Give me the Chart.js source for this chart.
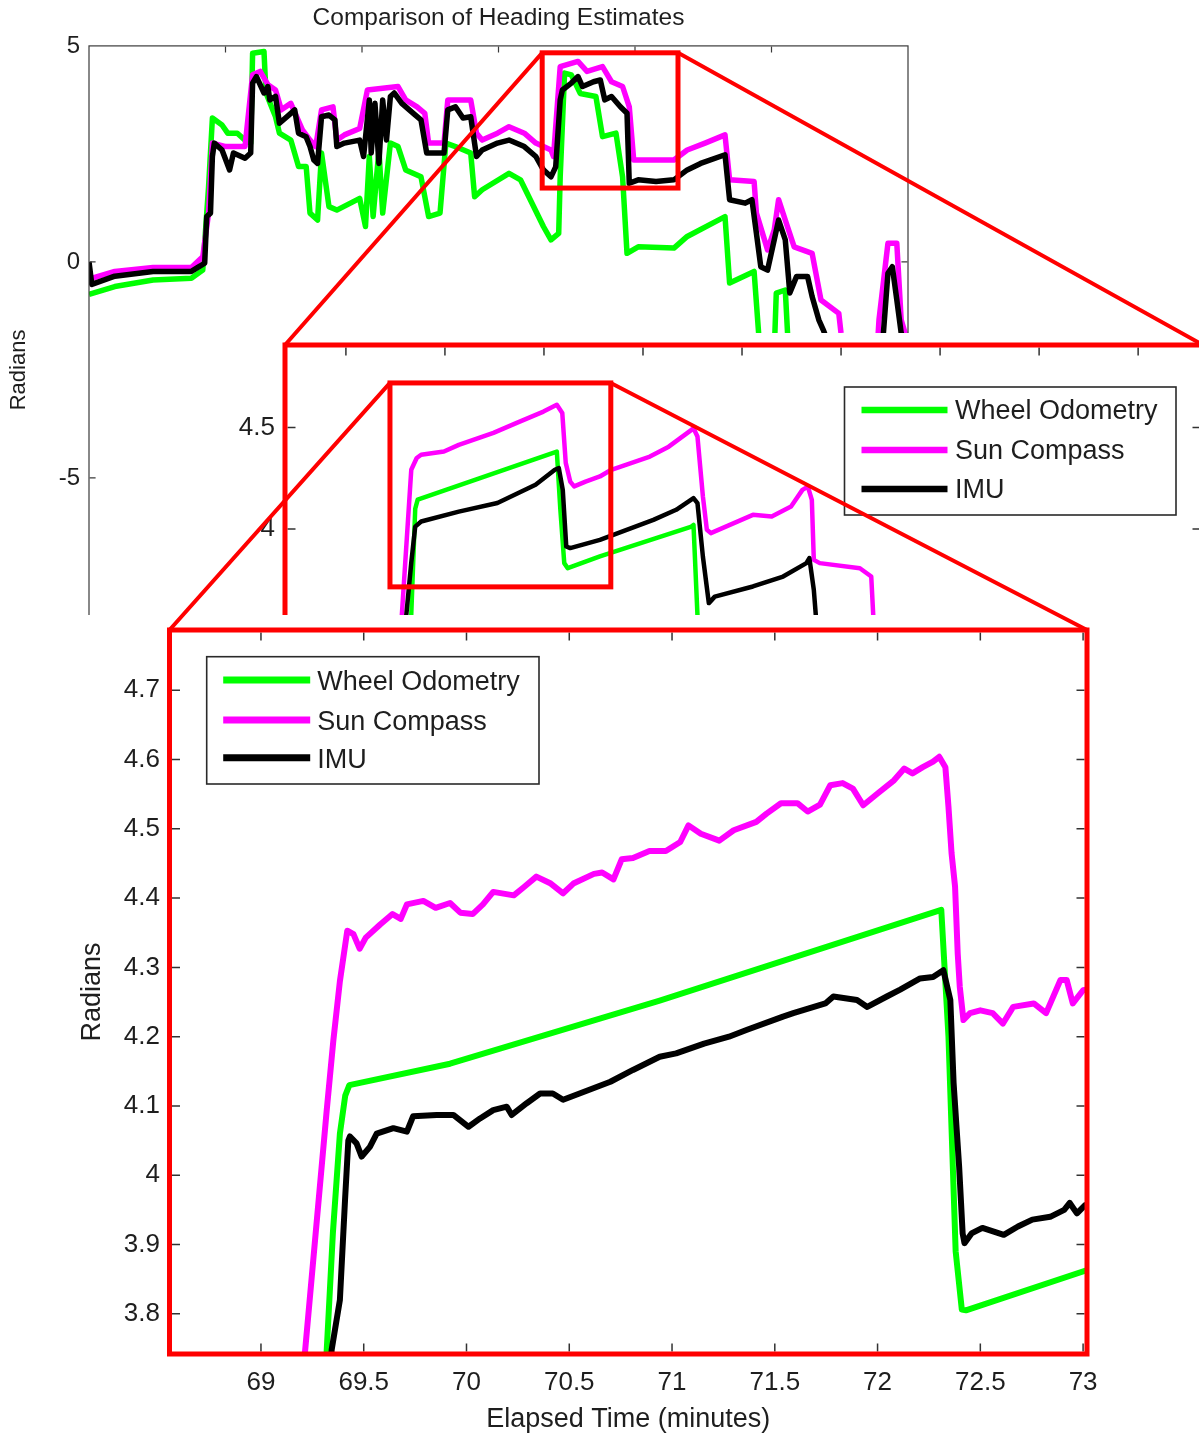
<!DOCTYPE html>
<html><head><meta charset="utf-8">
<script src="https://cdn.jsdelivr.net/npm/chart.js@4.4.1/dist/chart.umd.min.js"></script>
<style>
html,body{margin:0;padding:0;background:#fff;overflow:hidden;width:1199px;height:1437px;}
.wrap{position:absolute;}
#w1{left:0;top:0;width:1199px;height:720px;}
#w2{left:200px;top:333px;width:1010px;height:320px;}
#w3{left:0;top:615px;width:1199px;height:822px;}
#ov{position:absolute;left:0;top:0;pointer-events:none;}
canvas{display:block;}
</style></head><body>
<div class="wrap" id="w1"><canvas id="c1" width="1199" height="720"></canvas></div>
<div class="wrap" id="w2"><canvas id="c2" width="1010" height="320"></canvas></div>
<div class="wrap" id="w3"><canvas id="c3" width="1199" height="822"></canvas></div>
<canvas id="ov" width="1199" height="1437"></canvas>
<script>
// ---------------- data ----------------
const seriesNames = ['Wheel Odometry', 'Sun Compass', 'IMU'];

// Overview (full run)
const overviewWheelT = [0,3.78,9.38,15,16.67,17.52,18.08,19.49,20.32,21.73,22.86,23.69,23.97,25.64,25.93,27.33,27.9,29.57,30.7,31.82,32.38,33.49,34.07,35.16,36.31,39.66,40.51,41.07,41.63,42.48,43.03,44.16,45.28,46.4,48.64,49.76,51.43,52.29,53.69,55.93,56.5,57.61,61.54,63.22,64.91,66.58,67.69,68.82,69.04,69.68,70.67,71.97,74.27,75.24,77.21,78.18,78.83,80.47,85.7,87.65,93.19,93.86,97.45,98.11,98.5,100.2,100.7,102.02,102.35,102.8,120];
const overviewWheelV = [-0.75,-0.57,-0.42,-0.38,-0.19,1.74,3.33,3.17,2.98,2.98,2.82,2.75,4.83,4.87,3.91,3.36,2.98,2.82,2.21,2.21,1.13,0.97,2.52,1.28,1.20,1.47,0.82,2.44,1.05,2.59,1.13,2.75,2.67,2.13,1.97,1.05,1.13,2.75,2.67,2.52,1.51,1.67,2.05,1.90,1.36,0.82,0.51,0.66,1.97,4.37,4.33,3.90,3.83,2.90,2.98,1.97,0.20,0.35,0.32,0.59,1.05,-0.49,-0.22,-1.64,-3.0,-3.0,-0.72,-0.65,-1.64,-3.0,-3.5];
const overviewSunT = [0,3.78,9.38,15,16.67,17.52,18.08,20.04,22.86,23.97,25.08,26.23,27.33,28.18,29.57,31.25,32.38,33.22,34.07,35.75,36.31,37.42,39.66,40.79,43.03,45.28,46.4,48.07,49.2,49.76,52.02,52.57,55.93,56.78,57.61,59.85,61.54,63.78,65.47,67.69,68.06,69.04,71.65,72.97,75.24,76.56,78.18,79.16,79.81,85.7,87.65,90.26,93.19,93.86,97.45,97.79,99.42,100.4,101.04,102.02,103.32,105.95,107.25,109.86,110.18,111,115.3,115.75,117.06,118.36,119,119.56,120];
const overviewSunV = [-0.40,-0.22,-0.13,-0.13,0.12,1.13,2.75,2.67,2.67,4.33,4.41,4.10,3.98,3.52,3.67,3.06,2.82,2.67,3.52,3.59,2.82,2.94,3.09,3.98,4.02,4.06,3.75,3.59,3.44,2.75,2.75,3.75,3.75,2.98,2.82,2.98,3.13,2.98,2.75,2.59,2.44,4.52,4.64,4.41,4.52,4.17,4.06,3.59,2.36,2.36,2.59,2.75,2.94,1.90,1.86,1.13,0.28,0.74,1.44,0.97,0.35,0.20,-0.88,-1.19,-1.64,-2.5,-2.5,-1.34,0.43,0.43,-1.34,-1.64,-2.5];
const overviewImuT = [0,0.41,3.78,9.38,15,16.12,16.95,17.25,17.8,18.08,18.36,19.49,20.6,21.16,22.86,23.69,23.97,24.53,25.64,26.21,26.49,27.33,27.9,29.57,30.14,30.7,31.8,32.38,32.94,33.49,34.07,35.16,36.03,36.31,37.42,39.66,40.23,41.07,41.35,41.9,42.48,43.03,43.59,44.16,44.72,45.83,47.52,48.64,49.48,52.02,52.57,53.69,54.8,55.93,56.78,57.61,59.85,61.54,63.78,65.47,66.58,67.69,68.38,69.04,69.36,70.67,71.65,72.31,73.93,74.92,75.57,76.56,77.86,78.83,79.16,80.47,83.08,85.7,87.65,89.61,93.19,93.86,96.15,97.13,97.79,98.43,99.42,100.4,101.04,102.02,102.68,103.66,105.29,105.95,106.93,107.58,108.6,110,116,116.4,117.06,117.7,118.36,119,120];
const overviewImuV = [0.0,-0.52,-0.33,-0.22,-0.22,-0.11,-0.03,1.05,1.13,2.44,2.75,2.59,2.13,2.52,2.40,2.52,4.14,4.29,3.91,4.06,3.75,3.83,3.21,3.44,3.52,2.98,2.90,2.67,2.36,2.28,3.36,3.40,3.29,2.67,2.75,2.82,2.44,3.75,2.52,3.67,2.28,3.75,2.82,3.83,3.91,3.67,3.44,3.29,2.52,2.52,3.52,3.59,3.33,3.36,2.44,2.59,2.75,2.82,2.67,2.44,2.13,1.97,2.2,3.75,3.98,4.14,4.29,4.06,4.17,4.21,3.75,3.83,3.59,3.44,1.82,1.90,1.86,1.90,2.13,2.28,2.48,1.44,1.36,1.44,0.66,-0.11,-0.19,0.51,0.97,0.51,-0.72,-0.34,-0.34,-0.80,-1.34,-1.57,-2.0,-2.5,-2.5,-1.64,-0.26,-0.11,-0.88,-1.64,-2.5];

// Middle zoom
const midWheelT = [69.30,69.40,69.45,72.26,72.33,72.41,72.48,73.13,74.98,75.02,75.10,75.12];
const midWheelV = [3.45,4.10,4.145,4.382,4.10,3.832,3.807,3.865,4.012,4.02,3.577,3.40];
const midSunT = [69.10,69.13,69.32,69.43,69.52,69.98,70.28,70.98,71.45,71.99,72.26,72.37,72.44,72.53,72.61,72.84,73.13,73.36,74.14,74.52,74.98,75.02,75.10,75.21,75.29,75.37,76.22,76.60,76.99,77.22,77.33,77.41,77.45,77.57,78.38,78.61,78.65,78.70];
const midSunV = [3.45,3.577,4.292,4.35,4.366,4.382,4.415,4.474,4.523,4.579,4.612,4.572,4.326,4.234,4.21,4.234,4.259,4.292,4.357,4.406,4.489,4.497,4.456,4.16,3.996,3.98,4.07,4.062,4.111,4.193,4.209,4.144,3.848,3.832,3.807,3.766,3.577,3.40];
const midImuT = [69.15,69.22,69.32,69.40,69.52,70.28,71.06,71.83,72.22,72.30,72.38,72.45,72.53,73.13,74.21,74.67,75.02,75.10,75.21,75.33,75.45,76.22,76.83,77.30,77.36,77.45,77.49,77.52];
const midImuV = [3.40,3.577,3.834,4.012,4.037,4.086,4.128,4.218,4.292,4.30,4.193,3.914,3.906,3.947,4.045,4.095,4.152,4.128,3.864,3.635,3.667,3.717,3.766,3.832,3.857,3.70,3.577,3.40];

// Detail zoom
const detailWheelT = [69.31,69.32,69.35,69.384,69.41,69.43,69.92,70.94,72.31,72.345,72.38,72.41,72.43,73.05];
const detailWheelV = [3.69,3.748,3.917,4.06,4.115,4.13,4.161,4.252,4.383,4.20,3.89,3.806,3.805,3.866];
const detailSunT = [69.20,69.214,69.32,69.352,69.384,69.42,69.45,69.48,69.51,69.58,69.64,69.68,69.71,69.79,69.85,69.92,69.97,70.03,70.08,70.13,70.23,70.28,70.34,70.41,70.47,70.52,70.62,70.66,70.715,70.755,70.81,70.89,70.97,71.04,71.08,71.14,71.23,71.30,71.41,71.46,71.53,71.61,71.66,71.72,71.77,71.83,71.88,71.93,72.00,72.08,72.13,72.17,72.22,72.27,72.30,72.33,72.345,72.36,72.377,72.39,72.40,72.418,72.45,72.50,72.56,72.61,72.66,72.76,72.82,72.89,72.92,72.95,73.00,73.05];
const detailSunV = [3.70,3.744,4.094,4.194,4.28,4.353,4.348,4.327,4.343,4.362,4.377,4.37,4.391,4.396,4.386,4.393,4.379,4.377,4.391,4.409,4.404,4.416,4.431,4.421,4.407,4.421,4.435,4.437,4.427,4.456,4.458,4.468,4.468,4.481,4.505,4.493,4.483,4.498,4.51,4.522,4.537,4.537,4.525,4.535,4.563,4.566,4.558,4.534,4.551,4.57,4.587,4.58,4.589,4.597,4.604,4.589,4.532,4.465,4.417,4.32,4.272,4.224,4.234,4.238,4.234,4.219,4.243,4.248,4.234,4.282,4.282,4.248,4.267,4.27];
const detailImuT = [69.335,69.344,69.384,69.409,69.425,69.433,69.465,69.49,69.53,69.563,69.644,69.71,69.74,69.855,69.936,70.01,70.066,70.13,70.196,70.22,70.293,70.358,70.42,70.47,70.55,70.70,70.81,70.94,71.02,71.156,71.277,71.365,71.54,71.59,71.746,71.785,71.90,71.95,72.045,72.11,72.207,72.27,72.32,72.354,72.37,72.397,72.414,72.423,72.457,72.51,72.614,72.683,72.753,72.84,72.908,72.935,72.97,73.01,73.05];
const detailImuV = [3.70,3.748,3.82,3.964,4.05,4.056,4.046,4.027,4.041,4.06,4.068,4.063,4.085,4.087,4.087,4.07,4.082,4.094,4.099,4.087,4.104,4.118,4.118,4.109,4.118,4.135,4.152,4.171,4.176,4.19,4.20,4.21,4.229,4.234,4.248,4.258,4.253,4.243,4.258,4.268,4.284,4.286,4.296,4.253,4.133,4.012,3.916,3.902,3.916,3.924,3.914,3.926,3.936,3.94,3.95,3.96,3.945,3.957,3.96];

// Axis ranges and tick labels
const overviewXRange = [0, 120];
const overviewYRange = [-10, 5];
const overviewXTicks = [20, 40, 60, 80, 100];
const overviewYTicks = [-10, -5, 0, 5];
const midXRange = [66.77, 85.31];
const midYRange = [3.5, 4.907];
const midXTicks = [68, 70, 72, 74, 76, 78, 80, 82, 84];
const midYTicks = [3.5, 4, 4.5];
const detailXRange = [68.555, 73.019];
const detailYRange = [3.742, 4.787];
const detailXTicks = [69, 69.5, 70, 70.5, 71, 71.5, 72, 72.5, 73];
const detailYTicks = [3.8, 3.9, 4, 4.1, 4.2, 4.3, 4.4, 4.5, 4.6, 4.7];

// Zoom windows (value ranges)
const overviewZoomX = [66.4, 86.3];
const overviewZoomY = [1.71, 4.84];
const midZoomX = [68.89, 73.35];
const midZoomY = [3.715, 4.72];

// ---------------- styling ----------------
const FONT = "'Liberation Sans', Arial, Helvetica, sans-serif";
const TXT = '#1e1e1e';
const seriesColors = ['#00ff00', '#ff00ff', '#000000'];
const RED = '#ff0000';

function buildDatasets(T, V, lw) {
  return seriesNames.map((name, i) => ({
    label: name,
    data: T[i].map((t, k) => ({x: t, y: V[i][k]})),
    borderColor: seriesColors[i],
    backgroundColor: seriesColors[i],
    borderWidth: lw,
    pointRadius: 0,
    pointHoverRadius: 0,
    tension: 0,
    fill: false,
    borderJoinStyle: 'round',
    borderCapStyle: 'butt',
    order: 2 - i,
    clip: 0
  }));
}

const framePlugin = {
  id: 'frame',
  beforeDraw(chart, args, o) {
    const ctx = chart.ctx;
    ctx.save(); ctx.fillStyle = '#fff'; ctx.fillRect(0, 0, chart.width, chart.height); ctx.restore();
  },
  afterDatasetsDraw(chart, args, o) {
    const {ctx, chartArea: a, scales: {x, y}} = chart;
    ctx.save();
    const ins = o.frameWidth / 2;
    ctx.strokeStyle = o.tickColor; ctx.lineWidth = o.tickWidth; ctx.lineCap = 'butt';
    ctx.beginPath();
    o.xTicks.forEach(v => {
      const px = x.getPixelForValue(v);
      if (px < a.left + 1 || px > a.right - 1) return;
      ctx.moveTo(px, a.top + ins); ctx.lineTo(px, a.top + ins + o.tickLen);
      ctx.moveTo(px, a.bottom - ins); ctx.lineTo(px, a.bottom - ins - o.tickLen);
    });
    o.yTicks.forEach(v => {
      const py = y.getPixelForValue(v);
      if (py < a.top + 1 || py > a.bottom - 1) return;
      ctx.moveTo(a.left + ins, py); ctx.lineTo(a.left + ins + o.tickLen, py);
      ctx.moveTo(a.right - ins, py); ctx.lineTo(a.right - ins - o.tickLen, py);
    });
    ctx.stroke();
    ctx.strokeStyle = o.frameColor; ctx.lineWidth = o.frameWidth; ctx.lineJoin = 'miter';
    ctx.strokeRect(a.left, a.top, a.right - a.left, a.bottom - a.top);
    if (o.legend) {
      const L = o.legend;
      const bx = a.left + L.dx, by = a.top + L.dy;
      ctx.fillStyle = '#fff'; ctx.fillRect(bx, by, L.w, L.h);
      ctx.strokeStyle = '#2a2a2a'; ctx.lineWidth = 1.6; ctx.strokeRect(bx, by, L.w, L.h);
      seriesNames.forEach((name, i) => {
        const ds = chart.data.datasets.find(d => d.label === name);
        const yy = by + L.rows[i];
        ctx.strokeStyle = ds.borderColor; ctx.lineWidth = L.lw;
        ctx.beginPath(); ctx.moveTo(bx + L.x0, yy); ctx.lineTo(bx + L.x1, yy); ctx.stroke();
        ctx.fillStyle = TXT; ctx.font = L.fs + 'px ' + FONT;
        ctx.textBaseline = 'middle'; ctx.textAlign = 'left';
        ctx.fillText(name, bx + L.tx, yy + L.tdy);
      });
    }
    ctx.restore();
  }
};

function zeroPad(s) { s.paddingTop = 0; s.paddingBottom = 0; s.paddingLeft = 0; s.paddingRight = 0; }

function makeScales(p) {
  return {
    x: {
      type: 'linear', position: 'bottom', min: p.xr[0], max: p.xr[1],
      afterBuildTicks: s => { s.ticks = p.xt.map(v => ({value: v})); },
      afterFit: s => { s.height = p.xh; zeroPad(s); },
      grid: {display: false, drawTicks: false}, border: {display: false},
      ticks: {display: p.xLabels, autoSkip: false, maxRotation: 0, minRotation: 0, padding: p.xpad || 0,
        color: TXT, font: {family: FONT, size: p.fs}, callback: v => String(v)},
      title: p.xTitle ? {display: true, text: p.xTitle, color: TXT, font: {family: FONT, size: p.tfs}, padding: {top: 0, bottom: p.xTitlePad}} : {display: false}
    },
    y: {
      type: 'linear', position: 'left', min: p.yr[0], max: p.yr[1],
      afterBuildTicks: s => { s.ticks = p.yt.map(v => ({value: v})); },
      afterFit: s => { s.width = p.yw; zeroPad(s); },
      grid: {display: false, drawTicks: false}, border: {display: false},
      ticks: {display: true, autoSkip: false, padding: p.ypad, color: TXT,
        font: {family: FONT, size: p.fs}, callback: v => String(v)},
      title: p.yTitle ? {display: true, text: p.yTitle, color: TXT, font: {family: FONT, size: p.tfs}, padding: {top: p.yTitlePad, bottom: 0}} : {display: false}
    }
  };
}

const common = {
  responsive: false, animation: false, devicePixelRatio: 1,
  events: [],
};

// ---------- Chart 1: overview ----------
const ch1 = new Chart(document.getElementById('c1'), {
  type: 'line',
  data: {datasets: buildDatasets([overviewWheelT, overviewSunT, overviewImuT], [overviewWheelV, overviewSunV, overviewImuV], 5.5)},
  options: Object.assign({}, common, {
    layout: {padding: {left: 0, right: 291, top: 0, bottom: 0}},
    scales: makeScales({xr: overviewXRange, yr: overviewYRange, xt: overviewXTicks, yt: overviewYTicks,
      xh: 26, yw: 89, xLabels: false, ypad: 9, fs: 24, tfs: 22, yTitle: 'Radians', yTitlePad: 6}),
    plugins: {
      legend: {display: false}, tooltip: {enabled: false},
      title: {display: true, fullSize: false, text: 'Comparison of Heading Estimates', color: TXT,
        font: {family: FONT, size: 24.5, weight: 'normal'}, padding: {top: 3.5, bottom: 13}},
      frame: {frameColor: '#3a3a3a', frameWidth: 1.2, tickColor: '#3a3a3a', tickWidth: 1.2, tickLen: 6,
        xTicks: overviewXTicks, yTicks: overviewYTicks}
    }
  }),
  plugins: [framePlugin]
});

// ---------- Chart 2: middle zoom ----------
const ch2 = new Chart(document.getElementById('c2'), {
  type: 'line',
  data: {datasets: buildDatasets([midWheelT, midSunT, midImuT], [midWheelV, midSunV, midImuV], 4.5)},
  options: Object.assign({}, common, {
    layout: {padding: {left: 0, right: 7, top: 12, bottom: 0}},
    scales: makeScales({xr: midXRange, yr: midYRange, xt: midXTicks, yt: midYTicks,
      xh: 22.5, yw: 85, xLabels: false, ypad: 10, fs: 26}),
    plugins: {
      legend: {display: false}, tooltip: {enabled: false},
      frame: {frameColor: RED, frameWidth: 5, tickColor: '#333', tickWidth: 1.5, tickLen: 8,
        xTicks: midXTicks, yTicks: midYTicks,
        legend: {dx: 559.5, dy: 42, w: 331.5, h: 128, x0: 17, x1: 103, tx: 110.5, rows: [23, 63, 102], tdy: 2, lw: 6.5, fs: 27}}
    }
  }),
  plugins: [framePlugin]
});

// ---------- Chart 3: detail zoom ----------
const ch3 = new Chart(document.getElementById('c3'), {
  type: 'line',
  data: {datasets: buildDatasets([detailWheelT, detailSunT, detailImuT], [detailWheelV, detailSunV, detailImuV], 6)},
  options: Object.assign({}, common, {
    layout: {padding: {left: 0, right: 112, top: 15, bottom: 0}},
    scales: makeScales({xr: detailXRange, yr: detailYRange, xt: detailXTicks, yt: detailYTicks,
      xh: 83, yw: 169.5, xLabels: true, xpad: 13, ypad: 9.5, fs: 26, tfs: 27,
      xTitle: 'Elapsed Time (minutes)', xTitlePad: 1, yTitle: 'Radians', yTitlePad: 76}),
    plugins: {
      legend: {display: false}, tooltip: {enabled: false},
      frame: {frameColor: RED, frameWidth: 5, tickColor: '#333', tickWidth: 1.5, tickLen: 8,
        xTicks: detailXTicks, yTicks: detailYTicks,
        legend: {dx: 37.2, dy: 26.7, w: 332.3, h: 127.3, x0: 16.5, x1: 103.5, tx: 110.5, rows: [23.3, 63.3, 101], tdy: 2.5, lw: 7, fs: 27}}
    }
  }),
  plugins: [framePlugin]
});

// ---------- zoom boxes and connector lines ----------
(function drawConnectors() {
  const ov = document.getElementById('ov').getContext('2d');
  const off = ch => { const r = ch.canvas.getBoundingClientRect(); return [r.left, r.top]; };
  const rectOf = (ch, xr, yr) => {
    const [ox, oy] = off(ch);
    return {
      l: ox + ch.scales.x.getPixelForValue(xr[0]), r: ox + ch.scales.x.getPixelForValue(xr[1]),
      t: oy + ch.scales.y.getPixelForValue(yr[1]), b: oy + ch.scales.y.getPixelForValue(yr[0])
    };
  };
  const areaOf = ch => { const [ox, oy] = off(ch); const a = ch.chartArea; return {l: ox + a.left, r: ox + a.right, t: oy + a.top, b: oy + a.bottom}; };
  const A = rectOf(ch1, overviewZoomX, overviewZoomY);
  const B = rectOf(ch2, midZoomX, midZoomY);
  const C2 = areaOf(ch2), C3 = areaOf(ch3);
  ov.strokeStyle = RED; ov.lineJoin = 'miter';
  ov.lineWidth = 5;
  ov.strokeRect(A.l, A.t, A.r - A.l, A.b - A.t);
  ov.strokeRect(B.l, B.t, B.r - B.l, B.b - B.t);
  ov.lineWidth = 4;
  ov.beginPath();
  ov.moveTo(A.l, A.t); ov.lineTo(C2.l, C2.t);
  ov.moveTo(A.r, A.t); ov.lineTo(C2.r, C2.t);
  ov.moveTo(B.l, B.t); ov.lineTo(C3.l, C3.t);
  ov.moveTo(B.r, B.t); ov.lineTo(C3.r, C3.t);
  ov.stroke();
})();
</script>
</body></html>
